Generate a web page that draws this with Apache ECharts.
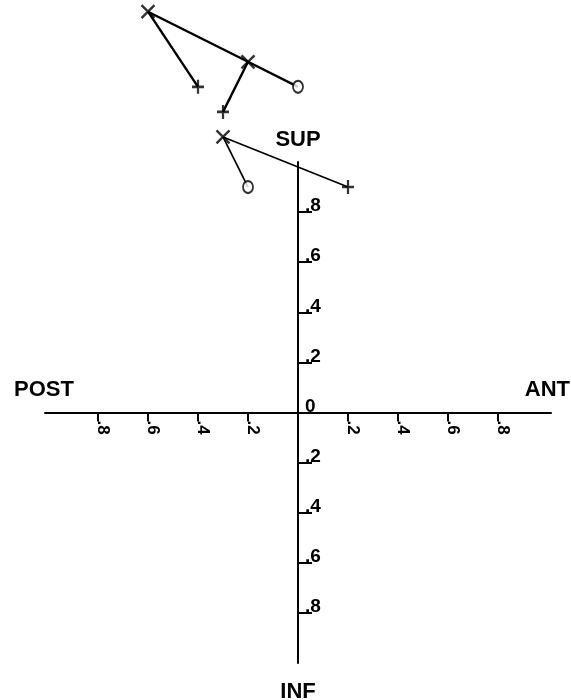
<!DOCTYPE html>
<html>
<head>
<meta charset="utf-8">
<script src="https://cdn.jsdelivr.net/npm/echarts@6/dist/echarts.min.js"></script>
<style>
  html, body { margin: 0; padding: 0; background: #fff; }
  #chart { width: 571px; height: 700px; }
</style>
</head>
<body>
<div id="chart"></div>
<script>
// Axis ticks and their printed labels (magnitudes only, both directions)
const xTickValues = [-0.8, -0.6, -0.4, -0.2, 0.2, 0.4, 0.6, 0.8];
const xTickLabels = ['.8', '.6', '.4', '.2', '.2', '.4', '.6', '.8'];
const yTickValues = [-0.8, -0.6, -0.4, -0.2, 0.2, 0.4, 0.6, 0.8];
const yLabelValues = [-0.8, -0.6, -0.4, -0.2, 0, 0.2, 0.4, 0.6, 0.8];
const yTickLabels = ['.8', '.6', '.4', '.2', '0', '.2', '.4', '.6', '.8'];
const directionNames = ['SUP', 'INF', 'POST', 'ANT'];

// Plotted positions (x: POST-/ANT+, y: INF-/SUP+)
const crossPoints = [[-0.6, 1.6], [-0.2, 1.4], [-0.3, 1.1]];
const plusPoints  = [[-0.4, 1.3], [-0.3, 1.2], [0.2, 0.9]];
const ringPoints  = [[0.0, 1.3], [-0.2, 0.9]];

// Connecting segments
const upperLinks = [
  [crossPoints[0], plusPoints[0]],
  [crossPoints[0], crossPoints[1]],
  [crossPoints[1], ringPoints[0]],
  [crossPoints[1], plusPoints[1]]
];
const lowerLinks = [
  [crossPoints[2], ringPoints[1]],
  [crossPoints[2], plusPoints[2]]
];

const FONT = '"Liberation Sans", Arial, sans-serif';
const INK = '#000';
const GRID = { left: 45, right: 20, top: 162, bottom: 37 };
const X_RANGE = [-1.012, 1.012];

const chart = echarts.init(document.getElementById('chart'), null, { renderer: 'canvas' });

const labelFor = (values, texts) => (v) => {
  const i = values.findIndex(t => Math.abs(t - v) < 1e-6);
  return i >= 0 ? texts[i] : '';
};

const option = {
  animation: false,
  backgroundColor: '#fff',
  grid: Object.assign({ containLabel: false }, GRID),
  xAxis: {
    type: 'value',
    position: 'bottom',
    min: X_RANGE[0],
    max: X_RANGE[1],
    axisLine: { show: true, onZero: false, lineStyle: { color: INK, width: 2 } },
    axisTick: { show: true, inside: false, length: 9, customValues: xTickValues,
                lineStyle: { color: INK, width: 2 } },
    axisLabel: {
      show: true, rotate: -90, margin: 8, customValues: xTickValues,
      formatter: labelFor(xTickValues, xTickLabels),
      color: INK, fontFamily: FONT, fontWeight: 'bold', fontSize: 17,
      verticalAlign: 'bottom', lineHeight: 10
    },
    splitLine: { show: false }
  },
  yAxis: {
    type: 'value',
    position: 'left',
    min: -1,
    max: 1,
    axisLine: { show: true, onZero: false, lineStyle: { color: INK, width: 2 } },
    axisTick: { show: true, inside: true, length: 14, customValues: yTickValues,
                lineStyle: { color: INK, width: 2 } },
    axisLabel: {
      show: true, inside: true, margin: 7, customValues: yLabelValues,
      formatter: labelFor(yLabelValues, yTickLabels),
      color: INK, fontFamily: FONT, fontWeight: 'bold', fontSize: 19,
      verticalAlign: 'bottom', lineHeight: 12
    },
    splitLine: { show: false }
  },
  series: [
    {
      type: 'lines', coordinateSystem: 'cartesian2d', clip: false, z: 3,
      lineStyle: { color: INK, width: 2.4, opacity: 1 },
      data: upperLinks.map(c => ({ coords: c }))
    },
    {
      type: 'lines', coordinateSystem: 'cartesian2d', clip: false, z: 3,
      lineStyle: { color: INK, width: 1.7, opacity: 1 },
      data: lowerLinks.map(c => ({ coords: c }))
    },
    {
      type: 'scatter', clip: false, z: 4,
      symbol: 'path://M0,0L12,12M12,0L0,12', symbolSize: 13,
      itemStyle: { color: 'transparent', borderColor: INK, borderWidth: 2.4 },
      data: crossPoints
    },
    {
      type: 'scatter', clip: false, z: 4,
      symbol: 'path://M6,0L6,14M0,7L12,7', symbolSize: [12, 14],
      itemStyle: { color: 'transparent', borderColor: INK, borderWidth: 2.4 },
      data: plusPoints
    },
    {
      type: 'scatter', clip: false, z: 4,
      symbol: 'emptyCircle', symbolSize: [10, 12],
      itemStyle: { color: INK, borderColor: INK, borderWidth: 2.6 },
      data: ringPoints
    }
  ]
};

chart.setOption(option);

// Move both axes onto the origin so that line, ticks and labels cross there
const toPx = (p) => chart.convertToPixel({ gridIndex: 0 }, p);
const origin = toPx([0, 0]);
const yAxisOffset = -(origin[0] - GRID.left);
const xAxisOffset = -((700 - GRID.bottom) - origin[1]);

// Direction names placed around the ends of the two axes
const supEnd = toPx([0, 1]);
const infEnd = toPx([0, -1]);
const postEnd = toPx([X_RANGE[0], 0]);
const antEnd = toPx([X_RANGE[1], 0]);
const titleStyle = (text, align, vAlign) => ({
  text, fill: INK, font: 'bold 22px ' + FONT, align, verticalAlign: vAlign
});

chart.setOption({
  xAxis: { offset: xAxisOffset },
  yAxis: { offset: yAxisOffset },
  graphic: [
    { type: 'text', x: supEnd[0], y: supEnd[1] - 11, style: titleStyle(directionNames[0], 'center', 'bottom') },
    { type: 'text', x: infEnd[0], y: infEnd[1] + 18, style: titleStyle(directionNames[1], 'center', 'top') },
    { type: 'text', x: postEnd[0] - 31, y: postEnd[1] - 12, style: titleStyle(directionNames[2], 'left', 'bottom') },
    { type: 'text', x: antEnd[0] + 19, y: antEnd[1] - 12, style: titleStyle(directionNames[3], 'right', 'bottom') }
  ]
});
</script>
</body>
</html>
